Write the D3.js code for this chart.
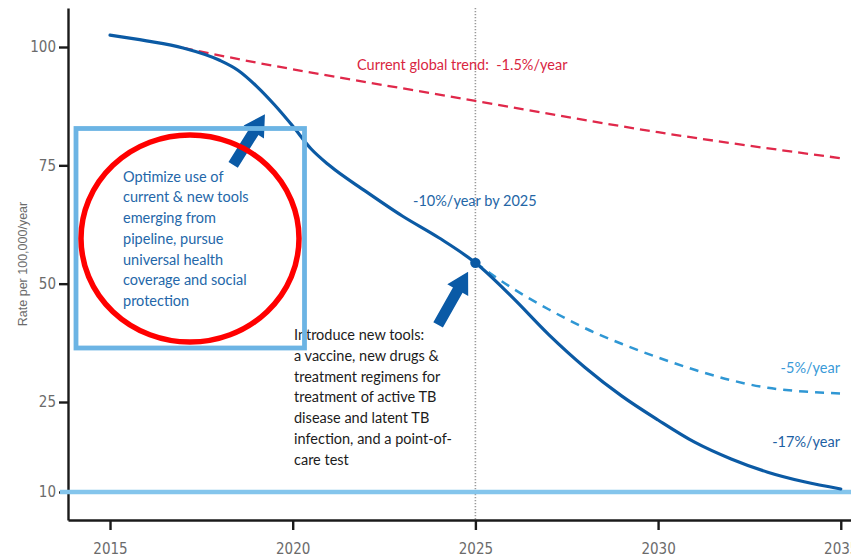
<!DOCTYPE html>
<html>
<head>
<meta charset="utf-8">
<script src="https://cdn.jsdelivr.net/npm/d3@7/dist/d3.min.js"></script>
<style>
  html, body { margin: 0; padding: 0; background: #fff; }
  svg { display: block; }
</style>
</head>
<body>
<svg id="chart" width="851" height="558"></svg>
<script>
// ---------------- data ----------------
const xTickYears = [2015, 2020, 2025, 2030, 2035];
const yTickValues = [10, 25, 50, 75, 100];

// main (solid) pathway: -10%/year by 2025, then -17%/year
const mainYears  = [2015, 2016, 2017, 2018, 2018.5, 2019, 2019.5, 2020, 2020.5, 2021, 2022, 2023, 2024, 2025,
                    2026, 2027, 2028, 2029, 2030, 2031, 2032, 2033, 2034, 2035];
const mainValues = [102.5, 101.3, 99.8, 97.2, 95.1, 91.8, 87.8, 83.3, 78.5, 75.0, 69.5, 64.3, 59.7, 54.4,
                    47.2, 39.3, 32.3, 26.3, 22.0, 18.3, 15.5, 13.3, 11.7, 10.5];

// -5%/year pathway after 2025 (dashed)
const slowYears  = [2025, 2026, 2027, 2028, 2029, 2030, 2031, 2032, 2033, 2034, 2035];
const slowValues = [54.4, 49.1, 44.6, 40.6, 37.3, 34.4, 31.8, 29.6, 28.0, 27.2, 26.8];

// current global trend -1.5%/year (red dashed)
const trendYears  = [2017, 2020, 2025, 2030, 2035];
const trendValues = [99.8, 95.3, 88.6, 82.0, 76.5];

const targetValue = 10;
const milestoneYear = 2025;

// annotation arrows: [tailYear, tailValue, tipYear, tipValue]
const arrows = [
  [2018.37, 75.1, 2019.24, 85.8],
  [2023.98, 41.3, 2024.80, 52.5]
];

const boxText = ["Optimize use of", "current & new tools", "emerging from", "pipeline, pursue",
                 "universal health", "coverage and social", "protection"];
const toolText = ["Introduce new tools:", "a vaccine, new drugs &", "treatment regimens for",
                  "treatment of active TB", "disease and latent TB", "infection, and a point-of-",
                  "care test"];

// ---------------- layout ----------------
const svg = d3.select("#chart");
const pLeft = 68, pRight = 851, pTop = 8, pBottom = 520;

const x = d3.scaleLinear().domain([2013.85, 2035.28]).range([pLeft, pRight]);
// broken scale: 10..25 is stretched relative to 25..100
const y = d3.scaleLinear().domain([5.33, 10, 25, 100, 108.2]).range([pBottom, 492, 402, 47, pTop]);

const tickFont = "'Liberation Sans Narrow', 'Arial Narrow', 'DejaVu Sans Condensed', sans-serif";
const annFont = "Lato, 'Open Sans', sans-serif";

// vertical dotted line at 2025
svg.append("line")
  .attr("x1", x(milestoneYear)).attr("x2", x(milestoneYear))
  .attr("y1", pTop).attr("y2", pBottom)
  .attr("stroke", "#9a9a9a").attr("stroke-width", 1.6)
  .attr("stroke-dasharray", "1.2,1.8");

// axes
const yAxis = d3.axisLeft(y).tickValues(yTickValues).tickSize(9).tickSizeOuter(0).tickPadding(3);
const xAxis = d3.axisBottom(x).tickValues(xTickYears).tickFormat(d3.format("d"))
  .tickSize(10).tickSizeOuter(0).tickPadding(13);

const gy = svg.append("g").attr("transform", `translate(${pLeft},0)`).call(yAxis);
const gx = svg.append("g").attr("transform", `translate(0,${pBottom})`).call(xAxis);
[gx, gy].forEach(g => {
  g.select(".domain").attr("stroke", "#1a1a1a").attr("stroke-width", 2.4);
  g.selectAll(".tick line").attr("stroke", "#1a1a1a").attr("stroke-width", 2.4);
  g.selectAll(".tick text").attr("fill", "#6b6b6b").style("font-family", tickFont).style("font-size", "15px");
});

// y axis title
svg.append("text")
  .attr("transform", "translate(27,264) rotate(-90)")
  .attr("text-anchor", "middle")
  .attr("fill", "#6b6b6b")
  .style("font-family", "'Liberation Sans', Arial, sans-serif")
  .style("font-size", "12.5px")
  .text("Rate per 100,000/year");

// target line at 10
svg.append("line")
  .attr("x1", pLeft - 8).attr("x2", pRight)
  .attr("y1", y(targetValue)).attr("y2", y(targetValue))
  .attr("stroke", "#84c5ec").attr("stroke-width", 4.5);

// red current trend
const trendLine = d3.line().x((d, i) => x(trendYears[i])).y(d => y(d)).curve(d3.curveNatural);
svg.append("path").datum(trendValues)
  .attr("d", trendLine)
  .attr("fill", "none").attr("stroke", "#e0284a").attr("stroke-width", 2.3)
  .attr("stroke-dasharray", "10,6");

// -5%/year dashed
const slowLine = d3.line().x((d, i) => x(slowYears[i])).y(d => y(d)).curve(d3.curveMonotoneX);
svg.append("path").datum(slowValues)
  .attr("d", slowLine)
  .attr("fill", "none").attr("stroke", "#2f97d4").attr("stroke-width", 2.5)
  .attr("stroke-dasharray", "9,7");

// main solid
const mainLine = d3.line().x((d, i) => x(mainYears[i])).y(d => y(d)).curve(d3.curveMonotoneX);
svg.append("path").datum(mainValues)
  .attr("d", mainLine)
  .attr("fill", "none").attr("stroke", "#0b5aa4").attr("stroke-width", 3.2)
  .attr("stroke-linecap", "round");

// milestone dot
const mi = mainYears.indexOf(milestoneYear);
svg.append("circle")
  .attr("cx", x(milestoneYear)).attr("cy", y(mainValues[mi])).attr("r", 5.2)
  .attr("fill", "#0b5aa4");

// arrows
function arrowPath(tx, ty, hx, hy) {
  const dx = hx - tx, dy = hy - ty, L = Math.hypot(dx, dy);
  const ux = dx / L, uy = dy / L, vx = -uy, vy = ux;
  const headL = 21, headW = 12, shaftW = 5.5;
  const pts = [
    [0, -shaftW], [L - headL, -shaftW], [L - headL, -headW], [L, 0],
    [L - headL, headW], [L - headL, shaftW], [0, shaftW]
  ].map(([u, v]) => [tx + ux * u + vx * v, ty + uy * u + vy * v]);
  return "M" + pts.map(p => p.join(",")).join("L") + "Z";
}
svg.selectAll(".arrow").data(arrows).enter().append("path")
  .attr("class", "arrow")
  .attr("d", d => arrowPath(x(d[0]), y(d[1]), x(d[2]), y(d[3])))
  .attr("fill", "#0a5aa6");

// text blocks
function block(lines, x0, y0, lh, color) {
  const t = svg.append("text")
    .attr("fill", color)
    .style("font-family", annFont)
    .style("font-size", "14.5px");
  lines.forEach((s, i) => {
    t.append("tspan").attr("x", x0).attr("y", y0 + i * lh).text(s);
  });
  return t;
}
block(toolText, 294, 340, 20.8, "#1c1c1c");

// light blue box (drawn over text)
svg.append("rect")
  .attr("x", 76).attr("y", 128.5).attr("width", 228.5).attr("height", 219.5)
  .attr("fill", "none").attr("stroke", "#6cb4e4").attr("stroke-width", 4.8);

// red ellipse
svg.append("ellipse")
  .attr("cx", 190).attr("cy", 238.5).attr("rx", 109).attr("ry", 103.5)
  .attr("fill", "none").attr("stroke", "#ff0000").attr("stroke-width", 5.5);

block(boxText, 123, 181.5, 20.75, "#2467a9");

// labels
function label(s, x0, y0, color, anchor) {
  svg.append("text")
    .attr("x", x0).attr("y", y0)
    .attr("text-anchor", anchor || "start")
    .attr("fill", color)
    .attr("xml:space", "preserve")
    .style("white-space", "pre")
    .style("font-family", annFont)
    .style("font-size", "14.5px")
    .text(s);
}
label("Current global trend:  -1.5%/year", 357, 69.5, "#d9263f");
label("-10%/year by 2025", 413, 206, "#2466a6");
label("-5%/year", 840, 372.5, "#3a9ad8", "end");
label("-17%/year", 840, 446.5, "#1d5fa3", "end");
</script>
</body>
</html>
